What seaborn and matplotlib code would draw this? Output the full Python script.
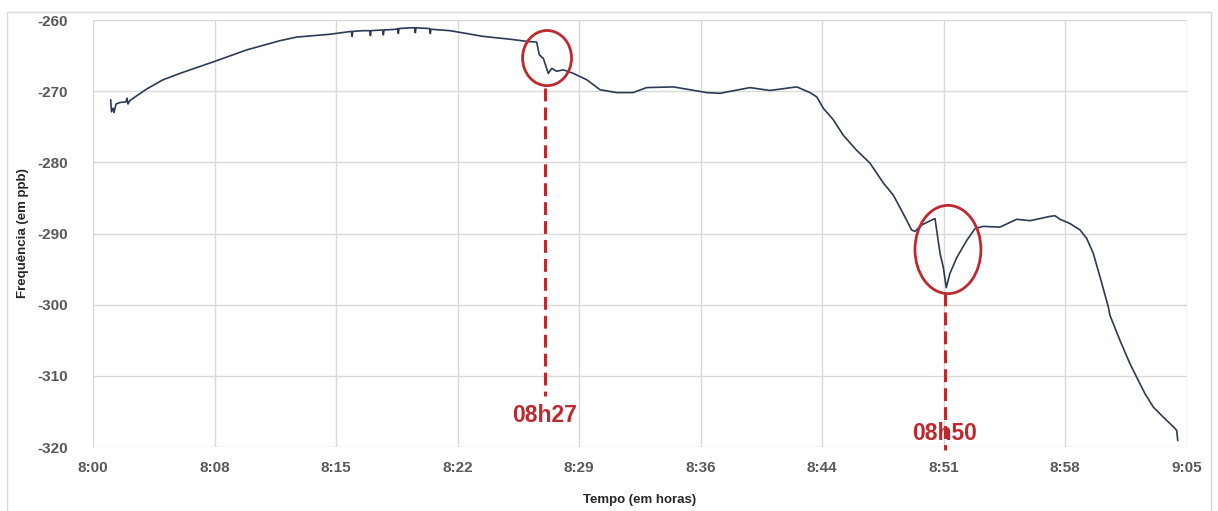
import numpy as np
import pandas as pd
import matplotlib
matplotlib.use("Agg")
import matplotlib.pyplot as plt
from matplotlib.patches import Ellipse, Rectangle
import seaborn as sns

# ---- data (minutes after 8:00, frequency in ppb) ----
time_min = [1.05, 1.10, 1.19, 1.25, 1.37, 1.60, 1.96, 2.02, 2.08, 2.20, 3.19, 4.16, 5.17,
            7.13, 9.14, 11.12, 12.11, 14.09, 15.36, 15.40, 15.44, 16.05, 16.45, 16.49, 16.53,
            17.22, 17.26, 17.30, 18.05, 18.11, 18.15, 18.19, 18.84, 19.12, 19.16, 19.20,
            20.01, 20.05, 20.09,
            21.22, 22.21, 23.18, 24.79, 25.78, 26.37, 26.53, 26.77, 27.06, 27.27, 27.56,
            27.96, 28.55, 29.35, 30.14, 31.13, 32.10, 32.91, 34.49, 35.49, 36.48, 37.27,
            39.05, 40.24, 41.83, 42.62, 43.02, 43.41, 44.00, 44.60, 45.39, 46.18, 46.98,
            47.57, 48.16, 48.66, 48.86, 49.26, 49.95, 50.05, 50.35, 50.54, 50.72, 50.94,
            51.34, 51.93, 52.43, 52.92, 53.91, 54.91, 55.70, 56.88, 57.18, 57.48, 58.07,
            58.67, 59.07, 59.46, 59.86, 60.35, 60.45, 61.04, 61.64, 62.04, 62.53, 63.03,
            63.62, 64.32, 64.42, 64.48]
freq_ppb = [-271.2, -272.9, -272.4, -273.0, -271.8, -271.6, -271.5, -271.0, -271.8, -271.3,
            -269.7, -268.4, -267.5, -265.9, -264.2, -262.9, -262.4, -262.0, -261.6, -262.3, -261.6,
            -261.5, -261.5, -262.2, -261.5, -261.4, -262.1, -261.4, -261.3, -261.2, -261.9, -261.2,
            -261.1, -261.1, -261.8, -261.1, -261.2, -261.9, -261.3,
            -261.5, -261.9, -262.3, -262.7, -263.0, -263.1,
            -264.9, -265.4, -267.5, -266.8, -267.2, -267.0, -267.5, -268.4, -269.8, -270.2,
            -270.2, -269.5, -269.4, -269.8, -270.2, -270.3, -269.5, -269.9, -269.4, -270.2,
            -270.8, -272.4, -274.0, -276.2, -278.3, -280.1, -282.9, -284.6, -287.2, -289.5,
            -289.7, -288.8, -288.0, -287.9, -292.8, -294.7, -297.6, -295.6, -293.4, -291.0,
            -289.3, -289.0, -289.1, -288.0, -288.2, -287.6, -287.5, -288.0, -288.6, -289.5,
            -290.7, -292.8, -296.1, -300.3, -301.5, -305.0, -308.3, -310.2, -312.5, -314.4,
            -315.8, -317.4, -317.7, -319.1]

x_tick_labels = ["8:00", "8:08", "8:15", "8:22", "8:29", "8:36", "8:44", "8:51", "8:58", "9:05"]
y_ticks = [-320, -310, -300, -290, -280, -270, -260]

event_min = [26.87, 50.64]
event_labels = ["08h27", "08h50"]

# ---- style ----
sns.set_style("whitegrid")
plt.rcParams['font.family'] = ['Liberation Sans', 'DejaVu Sans']

line_color = "#2b3a55"
red = "#c0282f"
grid_color = "#d9d9d9"
tick_color = "#595959"

fig = plt.figure(figsize=(12.18, 5.11), dpi=100)
ax = fig.add_axes([93 / 1218, 1 - 447 / 511, (1186.5 - 93) / 1218, (447 - 20) / 511])

df = pd.DataFrame({"t": time_min, "f": freq_ppb})
sns.lineplot(data=df, x="t", y="f", ax=ax, color=line_color, linewidth=1.2,
             estimator=None, sort=False, zorder=3)

ax.set_xlim(0, 65)
ax.set_ylim(-320, -260)
ax.set_xticks(np.linspace(0, 65, len(x_tick_labels)))
ax.set_xticklabels(x_tick_labels)
ax.set_yticks(y_ticks)
ax.set_yticklabels([str(v) for v in y_ticks])
ax.grid(True, color=grid_color, linewidth=1.0)
for s in ax.spines.values():
    s.set_visible(False)
ax.tick_params(axis='both', length=0, labelsize=11, labelcolor=tick_color)
ax.tick_params(axis='y', pad=18)
ax.tick_params(axis='x', pad=10)
for lab in ax.get_xticklabels() + ax.get_yticklabels():
    lab.set_fontweight('bold')

ax.set_xlabel("Tempo (em horas)", fontsize=9.5, fontweight='bold', color="#262626", labelpad=14)
ax.set_ylabel("Frequência (em ppb)", fontsize=9.5, fontweight='bold', color="#262626", labelpad=6)

# ---- annotations ----
ax.add_patch(Ellipse((26.99, -265.35), 2.91, 7.75, fill=False, edgecolor=red, linewidth=2.0, zorder=4))
ax.add_patch(Ellipse((50.82, -292.25), 3.92, 12.4, fill=False, edgecolor=red, linewidth=2.0, zorder=4))

ax.plot([event_min[0], event_min[0]], [-269.6, -312.8], color=red, linewidth=2.2,
        linestyle=(0, (4.2, 2.0)), zorder=4, clip_on=False)
ax.plot([event_min[1], event_min[1]], [-298.4, -320.4], color=red, linewidth=2.2,
        linestyle=(0, (4.2, 2.0)), zorder=4, clip_on=False)
ax.text(event_min[0], -315.6, event_labels[0], color=red, fontsize=16.5, fontweight='bold',
        ha='center', va='center', zorder=5)
ax.text(event_min[1], -318.1, event_labels[1], color=red, fontsize=16.5, fontweight='bold',
        ha='center', va='center', zorder=5)

# light frame around chart
fig.patches.append(Rectangle((7 / 1218, -0.01), (1211 - 7) / 1218, 1 - 12 / 511 + 0.01,
                             transform=fig.transFigure, fill=False, edgecolor="#d9d9d9",
                             linewidth=1.0))

fig.savefig("out.png", dpi=100)
